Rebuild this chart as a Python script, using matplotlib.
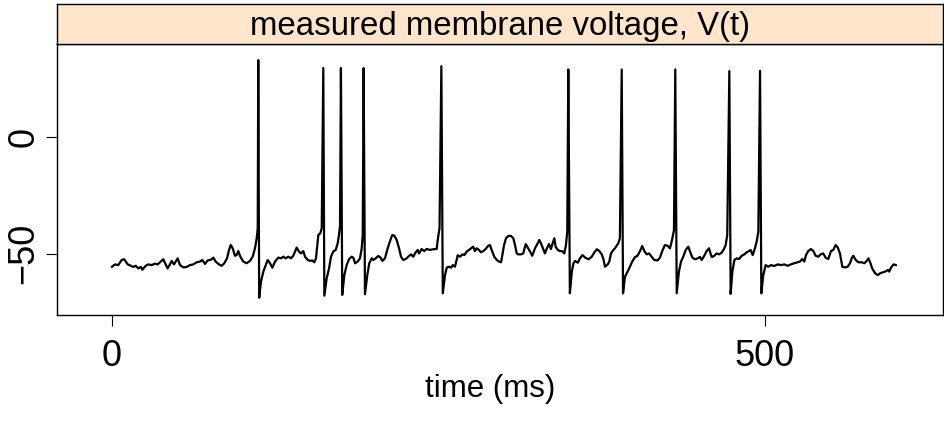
import matplotlib
matplotlib.use("Agg")
import matplotlib.pyplot as plt

plt.rcParams['font.family'] = ['Liberation Sans', 'DejaVu Sans']

# measured membrane voltage trace
time_ms = [
    0, 2.3, 4.8, 7.4, 9.4, 12, 14.5, 16.3, 18.1, 20.2, 22.2, 23.2, 25.8, 27.8, 30.4,
    32.9, 35, 36.8, 39.3, 41.1, 42.6, 44.4, 45.7, 47.5, 50.3, 52.1, 54.6, 57.2, 59.7,
    62.3, 64.8, 67.4, 69.2, 71.2, 73.3, 75.8, 77.6, 79.4, 81.9, 84, 86, 88.1, 89.6,
    90.9, 92.4, 94.2, 95.5, 96.7, 98.3, 100.5, 103.1, 105.7, 107.7, 109.5, 110.8,
    111.6, 112, 112.7,
    114.1, 115.9, 117.7, 119.2, 121, 122.8, 124.8, 127.3, 129.4, 131.2, 133, 135,
    137.1, 138.8, 141.4, 143.2, 144.7, 146.5, 147.8, 149.9, 151.6, 153.4, 154.9,
    156.2, 157.5, 158, 159.5, 160.6, 161.8, 162.6,
    164.4, 166.2, 167.7, 169.4, 171.3, 172.8, 173.8, 174.6, 175.3, 176.3,
    177.9, 179.7, 181.5, 183.5, 184.8, 186.1, 188.1, 189.9, 191.2, 192, 192.7, 193.7,
    195.5, 197, 198.9, 200.1, 201.9, 203.9, 205.7, 207, 209, 211.1, 212.9, 214.6,
    216.2, 218, 219.8, 221.3, 223, 224.9, 226.9, 228.9, 230.7, 232.5, 234.1, 235.1,
    237.1, 239.1, 240.9, 243.5, 246, 248.6, 249.6, 250.8, 252.2, 253.3,
    255, 256.3, 258, 259.6, 260.9, 262.6, 263.9, 264.7, 266.5, 268.3, 269.8, 271.6,
    273.4, 274.9, 276.6, 277.9, 279.2, 281, 282.5, 284.3, 286.1, 288.1, 289.4, 290.7,
    292.7, 294.6, 296.3, 297.9, 298.9, 300.2, 301.7, 303.5, 305.5, 307.3, 308.6,
    309.9, 311.1, 313.2, 314.9, 316.8, 318.3, 320.1, 321.8, 323.9, 325.9, 327.2,
    328.5, 330.2, 331.5, 332.8, 334.6, 336.1, 337.4, 338.7, 339.7, 341.3, 343, 344.8,
    346.3, 347.6, 348.6, 349.4, 350.6,
    352.1, 353.3, 354.6, 356.7, 358.3, 360.3, 362.3, 364.9, 367.4, 369.4, 371.3,
    373.2, 375, 376.3, 377.5, 379.6, 380.8, 382.1, 383.9, 385.1, 386.4, 387.6, 388.9,
    390.3, 391.3,
    392.8, 394.8, 396.6, 398.3, 400.4, 402.4, 404.3, 406, 407.6, 409.4, 411.2, 413.2,
    415.2, 417.8, 419.6, 421.3, 423.4, 425.4, 427.2, 428.5, 430.3, 431.3, 432.4,
    434.1, 435.7, 437.4, 439.3, 441.3, 442.6, 444.4, 446.4, 448.5, 450.2, 451.5,
    453.5, 455.3, 457.1, 459.2, 461.2, 463, 464.8, 466.8, 468.6, 469.9, 471.1, 472.7,
    473.7,
    475, 476.6, 478.4, 480.1, 482.2, 484.2, 486, 487.7, 489, 490.6, 492.3, 493.6,
    494.9, 496.2, 497.2,
    498.7, 500.5, 502.5, 504.6, 507.1, 509.7, 512.3, 514.8, 517.4, 519.9, 522.4, 525,
    526.8, 528.5, 530.1, 531.4, 533.1, 535.2, 537, 538.8, 540.8, 542.6, 544.6, 546.4,
    548.5, 550.5, 552.3, 554.1, 555.7, 557.4, 559.2, 561.3, 563.3, 565.1, 566.4,
    567.6, 569.5, 571.5, 574.1, 576.1, 577.9, 579.2, 580.5, 582.3, 584.3, 586.4,
    588.2, 590.2, 592, 594.1, 595.1, 596.6, 598.4, 600.2,
]
voltage_mv = [
    -55.6, -54.6, -54.9, -52.7, -52.4, -54.6, -55.2, -55.7, -55.2, -56.3, -55.7, -56.9,
    -55.2, -54.6, -54.9, -54.3, -54.6, -53.7, -52.4, -54.6, -56.3, -54.6, -53.1, -54.6,
    -52, -54.9, -55.9, -55.7, -54.9, -54.6, -53.7, -53.4, -52.7, -54.4, -52.9, -52.6,
    -51.7, -53.4, -54.6, -55.2, -54.1, -52, -48.4, -46.3, -47.7, -50.9, -50.6, -48.9,
    -51.3, -53.4, -54.1, -53.1, -51.3, -47.7, -43.4, -39.1, 33, -68.9,
    -62, -57.7, -54.9, -52.7, -54.1, -56, -53.4, -51.7, -52, -51.3, -52, -51.3, -52,
    -50.9, -47.4, -49.1, -49.9, -48.9, -51.3, -52.7, -53.1, -52.9, -53.7, -52, -44.9,
    -42, -41.3, -39.1, 29.6, -68,
    -60.6, -56.3, -51.3, -49.1, -48.4, -45.6, -42, -38, 29.6, -67.7,
    -59.2, -54.9, -52.4, -51.3, -51.7, -54.1, -53.4, -52, -47.7, -42, 29.6, -67.4,
    -59.2, -54.1, -52, -52.7, -52, -51, -51.7, -53.1, -52, -47.7, -44.6, -42, -42.3,
    -44.1, -47.7, -51.3, -52.7, -52.3, -51.3, -50.3, -51.3, -49.4, -48.4, -49.9, -48,
    -48.9, -48, -48.4, -48.1, -48, -43.4, -39, 30.4, -67,
    -59.2, -56, -55.6, -56, -54.9, -55.6, -52.7, -50.7, -51.3, -50.3, -50.6, -49.1,
    -48.4, -47.7, -47, -48.9, -47.7, -48.4, -49.4, -48.9, -48, -46.6, -46.3, -48.4,
    -51.3, -52.7, -53.4, -53.7, -50.6, -46.3, -43.4, -42.4, -42.4, -43.4, -46.3,
    -49.9, -50.3, -50.3, -49.9, -45.9, -47.3, -49.1, -50.9, -47.7, -45.6, -44.1,
    -45.6, -48, -49.9, -48, -45.9, -48, -45.6, -43.4, -47, -48.4, -48.9, -48.9,
    -49.9, -46.3, -40.6, 29, -67,
    -57.7, -54.1, -53.1, -53.9, -52, -50.6, -51.7, -52.4, -51.3, -49.4, -48.1, -48.9,
    -50.3, -52.4, -55.6, -54.6, -53.4, -49.9, -48.4, -47.7, -46.6, -45.6, -43.4, 29,
    -67,
    -59.9, -57.7, -55.6, -53.4, -51.5, -50.9, -48.9, -46.7, -48.9, -50.3, -49.9, -51.3,
    -52.7, -52.9, -51.7, -48.9, -46.3, -46.6, -47.7, -44.9, -40, 29, -67,
    -57.7, -53.4, -51.3, -48.4, -47, -49.1, -51.7, -52.4, -52, -51.4, -52.7, -50.9,
    -48.9, -47.7, -51.5, -50.9, -49.9, -50.3, -49.6, -48, -46.3, -42, 28.3, -67.3,
    -57.7, -52.7, -52, -52.3, -50.9, -50.3, -49.4, -48.9, -48.4, -50.6, -47.7, -44.9,
    -40.6, 28.4, -67,
    -59.2, -54.9, -55.6, -54.9, -55.3, -54.6, -54.9, -54.6, -55.2, -54.6, -54.1, -53.7,
    -53.4, -52.3, -53.4, -50.6, -48.9, -48, -48.9, -50.9, -51.3, -50.3, -49.9, -51.7,
    -52.3, -48.9, -48.4, -46.3, -47.3, -49.9, -55.6, -55.9, -55.6, -54.1, -52, -50.9,
    -52.7, -53.7, -53.7, -54.1, -53.1, -52, -53.7, -56.6, -58.4, -59.2, -58.4, -58,
    -57.7, -57, -57.7, -55.9, -54.6, -54.9,
]
x_ticks = [0, 500]
y_ticks = [-50, 0]
strip_title = "measured membrane voltage, V(t)"

W, H = 944, 422
fig = plt.figure(figsize=(W / 100, H / 100), dpi=100)

# panel area and strip above it (pixel positions from the reference)
left, right, top, bottom, strip_top = 57, 943, 44, 315, 4
ax = fig.add_axes([left / W, 1 - bottom / H, (right - left) / W, (bottom - top) / H])
strip = fig.add_axes([left / W, 1 - top / H, (right - left) / W, (top - strip_top) / H])

ax.plot(time_ms, voltage_mv, color="black", lw=1.6)
ax.set_xlim(-42.1, 636.3)
ax.set_ylim(-76.3, 39.9)
ax.set_xticks(x_ticks)
ax.set_yticks(y_ticks)
ax.tick_params(direction="out", length=8, width=0.8, labelsize=26, top=False, right=False)
ax.tick_params(axis="x", pad=9)
ax.tick_params(axis="y", pad=3)
for lab in ax.get_yticklabels():
    lab.set_rotation(90)
    lab.set_va("center")
for s in ax.spines.values():
    s.set_linewidth(1.0)

strip.set_facecolor("#ffe5cc")
strip.set_xticks([])
strip.set_yticks([])
for s in strip.spines.values():
    s.set_linewidth(1.0)
strip.text(0.5, 0.45, strip_title, ha="center", va="center", fontsize=23.8,
           transform=strip.transAxes)

fig.text(490 / W, 1 - 389 / H, "time (ms)", ha="center", va="center", fontsize=22.5)

fig.savefig("out.png", dpi=100)
